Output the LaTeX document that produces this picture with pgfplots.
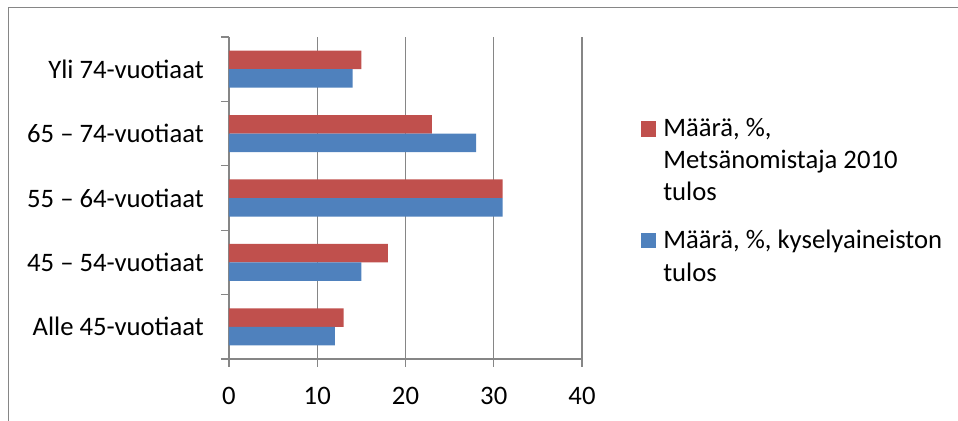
\documentclass[border=0pt]{standalone}
\usepackage{pgfplots}
\pgfplotsset{compat=1.18}
\usepackage{fontspec}
\setmainfont{Carlito}
\definecolor{redbar}{HTML}{C0504D}
\definecolor{bluebar}{HTML}{4F81BD}
\definecolor{gridgray}{HTML}{868686}
\begin{document}
\begin{tikzpicture}[x=0.75pt,y=0.75pt]
\useasboundingbox (0,0) rectangle (958,421);
\draw[gridgray, line width=1.2pt] (8.5,0) -- (8.5,413.5) -- (958,413.5);
\begin{axis}[
    at={(171.75pt,46.5pt)}, anchor=south west,
    scale only axis, width=264.75pt, height=241.5pt,
    xmin=0, xmax=40, ymin=-0.5, ymax=4.5,
    xbar, bar width=13.9pt,
    axis lines*=left,
    axis line style={gridgray, line width=0.9pt},
    xtick={0,10,20,30,40},
    xmajorgrids, major x grid style={gridgray, line width=0.9pt},
    ytick={0,1,2,3,4},
    yticklabels={Alle 45-vuotiaat, 45 – 54-vuotiaat, 55 – 64-vuotiaat, 65 – 74-vuotiaat, Yli 74-vuotiaat},
    minor ytick={-0.5,0.5,1.5,2.5,3.5,4.5},
    major y tick style={draw=none},
    major tick length=6pt, minor tick length=6pt,
    tick align=outside,
    tick style={gridgray, line width=0.9pt},
    ticklabel style={font=\fontsize{20}{24}\selectfont},
    yticklabel style={xshift=-9.4pt},
    xticklabel style={yshift=-11.5pt},
    /pgf/number format/assume math mode=true,
]
\addplot[fill=redbar, draw=none, bar shift=6.95pt] coordinates {(13,0) (18,1) (31,2) (23,3) (15,4)};
\addplot[fill=bluebar, draw=none, bar shift=-6.95pt] coordinates {(12,0) (15,1) (31,2) (28,3) (14,4)};
\end{axis}
% legend
\begin{scope}[every node/.style={inner sep=0pt, anchor=base west, font=\fontsize{20}{24}\selectfont}]
\fill[redbar] (641,284) rectangle (656,300);
\node at (663,284) {Määrä, \%,};
\node at (663,252) {Metsänomistaja 2010};
\node at (663,220) {tulos};
\fill[bluebar] (641,172.5) rectangle (656,188);
\node at (663,172) {Määrä, \%, kyselyaineiston};
\node at (663,139.5) {tulos};
\end{scope}
\end{tikzpicture}
\end{document}
